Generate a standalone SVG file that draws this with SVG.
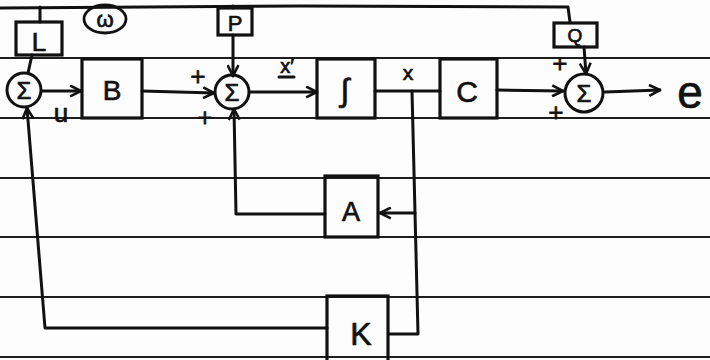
<svg xmlns="http://www.w3.org/2000/svg" width="710" height="360" viewBox="0 0 710 360">
<defs>
<style>
.rule{stroke:#1e1e1e;stroke-width:2.2;fill:none}
.ln{stroke:#111;stroke-width:3;fill:none;stroke-linecap:round;stroke-linejoin:round}
.box{fill:none;stroke:#111;stroke-width:3.2}
.t{font-family:"Liberation Sans","DejaVu Sans",sans-serif;fill:#111;stroke:#111;stroke-width:0.7;text-anchor:middle}
.pl{font-family:"DejaVu Sans",sans-serif;fill:#111;stroke:#111;stroke-width:0.8;text-anchor:middle;font-size:20px}
.arr{marker-end:url(#ah)}
</style>
<marker id="ah" viewBox="0 0 12 12" refX="11" refY="6" markerWidth="13" markerHeight="13" markerUnits="userSpaceOnUse" orient="auto">
<path d="M1,1 L11,6 L1,11" fill="none" stroke="#111" stroke-width="2.4"/>
</marker>
</defs>
<rect width="710" height="360" fill="#fdfdfd"/>
<g id="ruled-lines">
<line class="rule" x1="0" y1="58" x2="710" y2="58"/>
<line class="rule" x1="0" y1="118" x2="710" y2="118"/>
<line class="rule" x1="0" y1="178" x2="710" y2="178"/>
<line class="rule" x1="0" y1="237" x2="710" y2="237"/>
<line class="rule" x1="0" y1="297" x2="710" y2="297"/>
<line class="rule" x1="0" y1="357" x2="710" y2="357"/>
</g>
<g id="connectors">
<path class="ln" d="M0,8 L300,6 L568,7 L570,22"/>
<path class="ln" d="M40,7 L40,22"/>
<path class="ln" d="M233,6 L233,8"/>
<path class="ln" d="M32,55 L28,73"/>
<path class="ln arr" d="M42,91 L81,91"/>
<path class="ln arr" d="M142,91 L214,93"/>
<path class="ln arr" d="M233,35 L233,76"/>
<path class="ln arr" d="M250,92 L317,92"/>
<path class="ln" d="M375,91 L440,91"/>
<path class="ln arr" d="M497,90 L563,91"/>
<path class="ln arr" d="M584,47 L586,74"/>
<path class="ln arr" d="M605,92 L660,90"/>
<path class="ln" d="M412,91 L418,334 L389,334"/>
<path class="ln arr" d="M415,213 L380,213"/>
<path class="ln arr" d="M325,214 L236,214 L234,109"/>
<path class="ln arr" d="M327,328 L45,328 L27,108"/>
</g>
<g id="L">
<rect class="box" x="16" y="22" width="46" height="33"/>
<text class="t" x="39" y="51" font-size="26">L</text>
</g>
<g id="omega">
<ellipse cx="105" cy="19" rx="21" ry="14" fill="none" stroke="#111" stroke-width="2.8"/>
<text class="t" x="105" y="27" font-size="22">ω</text>
</g>
<g id="sum1">
<circle cx="24" cy="90" r="17" fill="none" stroke="#111" stroke-width="3"/>
<text class="t" x="24" y="99" font-size="24">Σ</text>
<text class="t" x="61" y="122" font-size="26">u</text>
</g>
<g id="B">
<rect class="box" x="82" y="59" width="60" height="59"/>
<text class="t" x="112" y="100" font-size="28">B</text>
</g>
<g id="P">
<rect class="box" x="218" y="8" width="34" height="27"/>
<text class="t" x="235" y="31" font-size="22">P</text>
</g>
<g id="sum2">
<circle cx="232" cy="92" r="17" fill="none" stroke="#111" stroke-width="3"/>
<text class="t" x="232" y="101" font-size="24">Σ</text>
<text class="pl" x="198" y="83">+</text>
<text class="pl" x="205" y="124">+</text>
</g>
<g id="xprime">
<text class="t" x="287" y="73" font-size="20">x′</text>
<line class="ln" x1="279" y1="77" x2="294" y2="77" stroke-width="2.2"/>
</g>
<g id="integral">
<rect class="box" x="317" y="59" width="58" height="59"/>
<text class="t" x="345" y="101" font-size="32">∫</text>
</g>
<g id="xlabel">
<text class="t" x="408" y="80" font-size="21">x</text>
</g>
<g id="C">
<rect class="box" x="440" y="59" width="57" height="59"/>
<text class="t" x="467" y="102" font-size="30">C</text>
</g>
<g id="Q">
<rect class="box" x="554" y="23" width="43" height="24"/>
<text class="t" x="575" y="42" font-size="19">Q</text>
</g>
<g id="sum3">
<circle cx="584" cy="93" r="19" fill="none" stroke="#111" stroke-width="3"/>
<text class="t" x="584" y="102" font-size="24">Σ</text>
<text class="pl" x="560" y="70">+</text>
<text class="pl" x="556" y="119">+</text>
</g>
<g id="e">
<text class="t" x="690" y="108" font-size="46">e</text>
</g>
<g id="A">
<rect class="box" x="325" y="176" width="53" height="61"/>
<text class="t" x="351" y="221" font-size="27">A</text>
</g>
<g id="K">
<rect class="box" x="327" y="296" width="61" height="66"/>
<text class="t" x="361" y="345" font-size="32">K</text>
</g>
</svg>
